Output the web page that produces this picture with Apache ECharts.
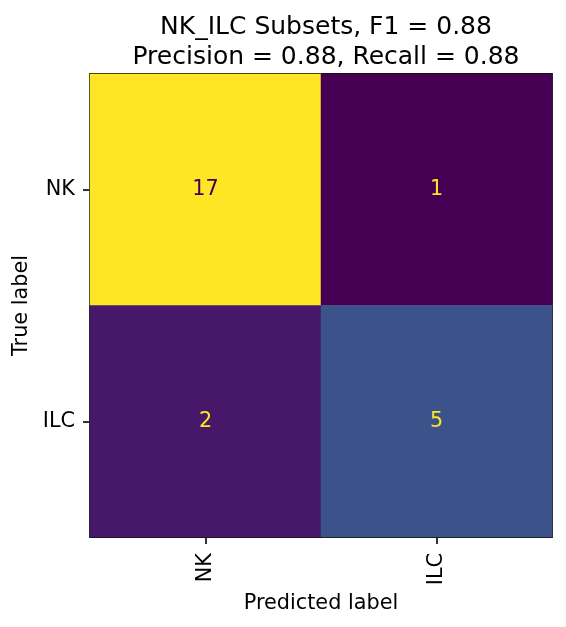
<!DOCTYPE html>
<html>
<head>
<meta charset="utf-8">
<script src="https://cdn.jsdelivr.net/npm/echarts@6/dist/echarts.min.js"></script>
<style>
  html, body { margin: 0; padding: 0; background: #fff; }
  #chart { width: 566px; height: 627px; }
</style>
</head>
<body>
<div id="chart"></div>
<script>
// confusion matrix — NK vs ILC
const predictedLabels = ["NK", "ILC"];
const trueLabels = ["NK", "ILC"];
// rows = true label, cols = predicted label
const counts = [
  [17, 1],
  [2, 5],
];
const titleLines = ["NK_ILC Subsets, F1 = 0.88", "Precision = 0.88, Recall = 0.88"];

const viridis = ["#440154", "#482475", "#414487", "#355f8d", "#2a788e", "#21918c",
  "#22a884", "#44bf70", "#7ad151", "#bddf26", "#fde725"];

const font = "DejaVu Sans";
const flat = counts.flat();
const vmin = Math.min(...flat);
const vmax = Math.max(...flat);
const mid = (vmin + vmax) / 2;

const cells = [];
counts.forEach((row, r) => row.forEach((v, c) => cells.push([c, r, v])));

const chart = echarts.init(document.getElementById("chart"), null, { renderer: "canvas" });
chart.setOption({
  animation: false,
  backgroundColor: "#fff",
  title: {
    text: titleLines.join("\n"),
    left: 321,
    textAlign: "center",
    top: 7,
    textStyle: { fontFamily: font, fontSize: 25, fontWeight: "normal", color: "#000", lineHeight: 30 },
  },
  grid: {
    left: 90, top: 74, width: 462, height: 463,
    outerBoundsMode: "none", containLabel: false,
    show: true, borderColor: "#111", borderWidth: 1.8, backgroundColor: "transparent",
  },
  xAxis: {
    type: "category",
    data: predictedLabels,
    name: "Predicted label",
    nameLocation: "middle",
    nameGap: 51,
    nameTextStyle: { fontFamily: font, fontSize: 20.8, color: "#000" },
    axisLine: { show: false },
    axisTick: { show: true, alignWithLabel: true, length: 7, lineStyle: { color: "#000", width: 1.6 } },
    axisLabel: { rotate: 90, margin: 16, fontFamily: font, fontSize: 20.8, color: "#000" },
    splitLine: { show: false },
  },
  yAxis: {
    type: "category",
    data: trueLabels,
    inverse: true,
    name: "True label",
    nameLocation: "middle",
    nameGap: 53,
    nameTextStyle: { fontFamily: font, fontSize: 20.8, color: "#000" },
    axisLine: { show: false },
    axisTick: { show: true, alignWithLabel: true, length: 7, lineStyle: { color: "#000", width: 1.6 } },
    axisLabel: { margin: 15, fontFamily: font, fontSize: 20.8, color: "#000" },
    splitLine: { show: false },
  },
  visualMap: {
    show: false,
    min: vmin,
    max: vmax,
    dimension: 2,
    inRange: { color: viridis },
  },
  series: [{
    type: "heatmap",
    data: cells,
    itemStyle: { borderWidth: 0 },
    label: {
      show: true,
      fontFamily: font,
      fontSize: 20.8,
      formatter: (p) => (p.value[2] > mid ? "{dark|" : "{light|") + p.value[2] + "}",
      rich: {
        dark: { color: viridis[0], fontFamily: font, fontSize: 20.8 },
        light: { color: viridis[viridis.length - 1], fontFamily: font, fontSize: 20.8 },
      },
    },
    emphasis: { disabled: true },
  }],
});
</script>
</body>
</html>
